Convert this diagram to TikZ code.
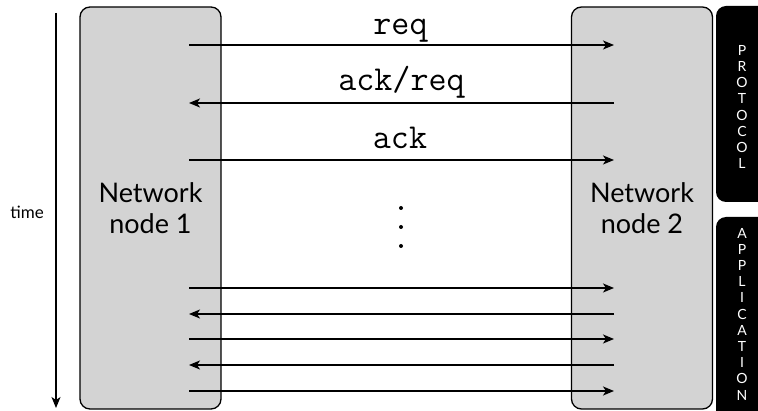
\documentclass[tikz,border=0pt]{standalone}
\usepackage{fontspec}
\setmainfont{Lato}
\usetikzlibrary{arrows.meta}
\definecolor{boxgray}{RGB}{211,211,211}
\begin{document}
\begin{tikzpicture}[x=1pt,y=-1pt,
  nodebox/.style={draw=black, line width=1.3pt, fill=boxgray, rounded corners=10pt,
    minimum width=141pt, minimum height=402pt, inner sep=0pt, align=center,
    font=\fontsize{27}{31}\selectfont},
  msg/.style={line width=1.8pt, -{Stealth[length=11pt,width=9pt,inset=3pt]}},
  lbl/.style={font=\fontsize{35}{35}\ttfamily, anchor=base, inner sep=0pt},
  side/.style={fill=black, rounded corners=10pt},
  sidetext/.style={text=white, align=center, inner sep=0pt, font=\fontsize{14}{16.2}\selectfont}
]
\useasboundingbox (0,0) rectangle (758,411);
\clip (0,0) rectangle (758,411);

% time axis
\coordinate (t0) at (56,13);
\coordinate (t1) at (56,408);
\draw[line width=1.5pt, -{Stealth[length=11pt,width=9pt,inset=3pt]}] (t0) -- (t1);
\node[anchor=east, font=\fontsize{17}{17}\selectfont, inner sep=0pt] (time) at (44,212) {time};

% network nodes
\node[nodebox] (n1) at (150.5,208) {Network\\node 1};
\node[nodebox] (n2) at (642,208) {Network\\node 2};

% side bars
\path[side] (716,6) rectangle (790,202);
\path[side] (716,217) rectangle (790,440);
\node[sidetext] (protolbl) at (742,107) {P\\R\\O\\T\\O\\C\\O\\L};
\node[sidetext] (applbl) at (742,314) {A\\P\\P\\L\\I\\C\\A\\T\\I\\O\\N};

% message end points
\foreach \i/\y in {1/45,2/103,3/160,4/288,5/314,6/339,7/365,8/391}{
  \coordinate (L\i) at (189,\y);
  \coordinate (R\i) at (614,\y);
}
\draw[msg] (L1) -- (R1);
\draw[msg] (R2) -- (L2);
\draw[msg] (L3) -- (R3);
\draw[msg] (L4) -- (R4);
\draw[msg] (R5) -- (L5);
\draw[msg] (L6) -- (R6);
\draw[msg] (R7) -- (L7);
\draw[msg] (L8) -- (R8);

% labels
\node[lbl] (lreq) at (400.5,35) {req};
\node[lbl] (lackreq) at (401.5,91) {ack/req};
\node[lbl] (lack) at (400,149) {ack};

% dots
\fill (401,208) circle (2pt);
\fill (401,227) circle (2pt);
\fill (401,246) circle (2pt);
\end{tikzpicture}
\end{document}
